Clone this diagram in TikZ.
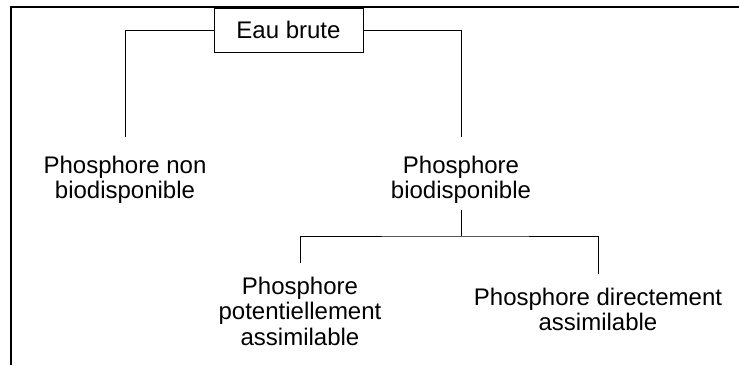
\documentclass[tikz,border=0pt]{standalone}
\usepackage{fontspec}
\setmainfont{Liberation Sans}
\begin{document}
\begin{tikzpicture}[x=1pt,y=-1pt,
  label/.style={font=\fontsize{24}{25.5}\selectfont, align=center, inner sep=0pt, anchor=north},
  rootbox/.style={draw, line width=1pt, font=\fontsize{24}{25.5}\selectfont, minimum width=149pt, minimum height=44pt, inner sep=0pt},
  link/.style={line width=1pt},
  frame/.style={line width=2pt}]
\useasboundingbox (0,0) rectangle (739,365);

% page frame (top and left edges)
\draw[frame] (11,365) -- (11,7) -- (739,7);

% nodes
\node[rootbox] (eau) at (288.5,30) {Eau brute};
\node[label] (nonbio) at (125,155.5) {Phosphore non\\biodisponible};
\node[label] (bio) at (461,155.5) {Phosphore\\biodisponible};
\node[label] (pot) at (300,276.5) {Phosphore\\potentiellement\\assimilable};
\node[label] (dir) at (598,287.5) {Phosphore directement\\assimilable};

% connectors
\coordinate (j) at (461,236);
\draw[link] (eau.west) -| ([yshift=18.5pt]nonbio.north);
\draw[link] (eau.east) -| ([yshift=18.5pt]bio.north);
\draw[link] ([yshift=-6pt]bio.south) -- (j);
\draw[link] ([yshift=13.5pt]pot.north) |- (j) -| ([yshift=13.5pt]dir.north);
\end{tikzpicture}
\end{document}
